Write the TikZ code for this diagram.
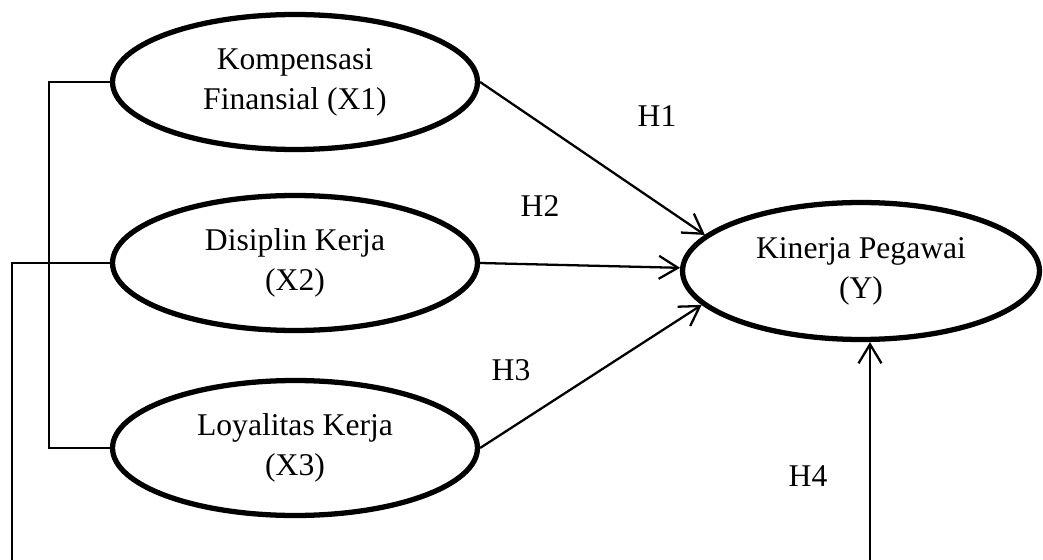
\documentclass[tikz,border=0pt]{standalone}
\usepackage{fontspec}
\setmainfont{Liberation Serif}
\usetikzlibrary{arrows.meta, positioning, shapes.geometric, calc}

\begin{document}
\begin{tikzpicture}[x=0.02cm, y=-0.02cm,
  latent/.style={draw, ellipse, line width=3pt, minimum width=7.3cm,
    minimum height=2.7cm, inner sep=0pt, align=center,
    font=\fontsize{18}{22.7}\selectfont},
  link/.style={line width=1.3pt},
  hyp/.style={link, -{Straight Barb[length=3.8mm, width=4.6mm]}},
  hlabel/.style={font=\fontsize{18}{22.7}\selectfont}]
\useasboundingbox (0,0) rectangle (1043,560);
\clip (0,0) rectangle (1043,560);

% independent variables
\node[latent] (x1) at (295,82) {Kompensasi\\Finansial (X1)};
\node[latent] (x2) at (295,263) {Disiplin Kerja\\(X2)};
\node[latent] (x3) at (295,448) {Loyalitas Kerja\\(X3)};

% dependent variable
\node[latent, minimum width=7.14cm, minimum height=2.74cm] (y) at (861,271) {Kinerja Pegawai\\(Y)};

% partial hypotheses
\draw[hyp] (x1.east) -- (y.167);
\draw[hyp] (x2.east) -- (y.179);
\draw[hyp] (x3.east) -- (y.192);

% simultaneous hypothesis
\draw[link] (x1.west) -- ++(-61,0) |- (x3.west);
\draw[hyp] (x2.west) -- ++(-98,0) |- ($(y.south)+(9,320)$) -- ($(y.south)+(9,0)$);

\node[hlabel] (h1) at (657,116) {H1};
\node[hlabel] (h2) at (540,206) {H2};
\node[hlabel] (h3) at (511,370) {H3};
\node[hlabel] (h4) at (808,476) {H4};
\end{tikzpicture}
\end{document}
